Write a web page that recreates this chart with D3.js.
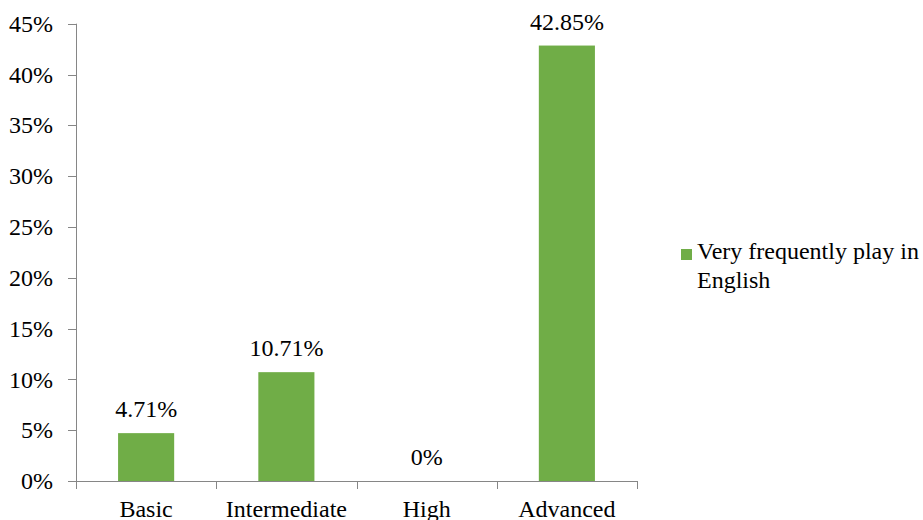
<!DOCTYPE html>
<html>
<head>
<meta charset="utf-8">
<script src="https://cdn.jsdelivr.net/npm/d3@7"></script>
<style>
  html, body { margin: 0; padding: 0; background: #fff; }
  svg { display: block; }
  text { font-family: "Liberation Serif", "Times New Roman", serif; fill: #000; }
</style>
</head>
<body>
<svg id="chart" width="923" height="520"></svg>
<script>
// Share of respondents who very frequently play in English, by level
const categories = ["Basic", "Intermediate", "High", "Advanced"];
const values = [4.71, 10.71, 0, 42.85];
const valueLabels = ["4.71%", "10.71%", "0%", "42.85%"];
const yTicks = [0, 5, 10, 15, 20, 25, 30, 35, 40, 45];
const seriesName = ["Very frequently play in", "English"];

const svg = d3.select("#chart");
const fontSize = 24;
const axisColor = "#868686";
const barColor = "#70AD47";

const plotLeft = 76, plotRight = 637, plotTop = 23.7, plotBottom = 481;

const x = d3.scaleBand().domain(categories).range([plotLeft, plotRight]).paddingInner(0.6).paddingOuter(0.3);
const xEdges = d3.scaleLinear().domain([0, categories.length]).range([plotLeft, plotRight]);
const y = d3.scaleLinear().domain([0, 45]).range([plotBottom, plotTop]);

// bars
svg.append("g").selectAll("rect").data(values).join("rect")
  .attr("x", (d, i) => x(categories[i]))
  .attr("width", x.bandwidth())
  .attr("y", d => y(d))
  .attr("height", d => y(0) - y(d))
  .attr("fill", barColor);

// value labels
svg.append("g").selectAll("text").data(values).join("text")
  .attr("x", (d, i) => x(categories[i]) + x.bandwidth() / 2)
  .attr("y", d => y(d) - 16)
  .attr("text-anchor", "middle")
  .attr("font-size", fontSize)
  .text((d, i) => valueLabels[i]);

// y axis
const gy = svg.append("g");
gy.append("line").attr("x1", plotLeft + 0.5).attr("x2", plotLeft + 0.5).attr("y1", y(45)).attr("y2", y(0))
  .attr("stroke", axisColor).attr("stroke-width", 1);
gy.selectAll("line.tick").data(yTicks).join("line").attr("class", "tick")
  .attr("x1", plotLeft - 8).attr("x2", plotLeft)
  .attr("y1", d => Math.round(y(d)) + 0.5).attr("y2", d => Math.round(y(d)) + 0.5)
  .attr("stroke", axisColor);
gy.selectAll("text").data(yTicks).join("text")
  .attr("x", plotLeft - 23)
  .attr("y", d => y(d))
  .attr("dy", "0.34em")
  .attr("text-anchor", "end")
  .attr("font-size", fontSize)
  .text(d => d + "%");

// x axis
const gx = svg.append("g");
gx.append("line").attr("x1", plotLeft - 8).attr("x2", plotRight).attr("y1", plotBottom + 0.5).attr("y2", plotBottom + 0.5)
  .attr("stroke", axisColor);
gx.selectAll("line.tick").data(d3.range(categories.length + 1)).join("line").attr("class", "tick")
  .attr("x1", i => Math.round(xEdges(i)) + 0.5).attr("x2", i => Math.round(xEdges(i)) + 0.5)
  .attr("y1", plotBottom).attr("y2", plotBottom + 8)
  .attr("stroke", axisColor);
gx.selectAll("text").data(categories).join("text")
  .attr("x", d => x(d) + x.bandwidth() / 2)
  .attr("y", 517)
  .attr("text-anchor", "middle")
  .attr("font-size", fontSize)
  .text(d => d);

// legend
const lg = svg.append("g");
lg.append("rect").attr("x", 681).attr("y", 249).attr("width", 11).attr("height", 11).attr("fill", barColor);
lg.selectAll("text").data(seriesName).join("text")
  .attr("x", 697)
  .attr("y", (d, i) => 259 + i * 29)
  .attr("font-size", fontSize)
  .text(d => d);
</script>
</body>
</html>
